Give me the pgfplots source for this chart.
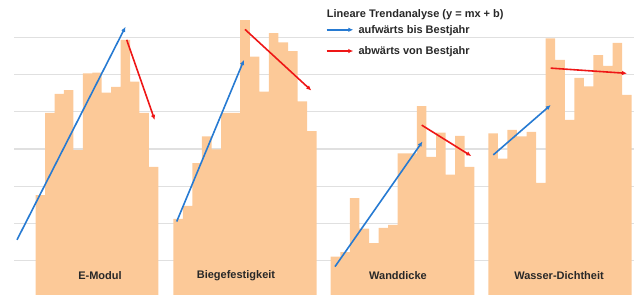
\documentclass[border=0pt]{standalone}
\usepackage{pgfplots}
\pgfplotsset{compat=1.18}
\usepackage{fontspec}
\setmainfont{Liberation Sans}
\usetikzlibrary{arrows.meta}
\definecolor{barc}{RGB}{252,201,152}
\definecolor{gridc}{RGB}{224,224,224}
\definecolor{upc}{RGB}{38,122,210}
\definecolor{downc}{RGB}{238,22,22}
\definecolor{txtc}{RGB}{40,40,40}
\tikzset{trend/.style={line width=1.6pt, -{Latex[length=5pt,width=4.5pt]}},
  lbl/.style={font=\fontsize{11bp}{13bp}\selectfont\bfseries, text=txtc, inner sep=0pt}}
\begin{document}
\begin{tikzpicture}
\begin{axis}[name=ax,
  scale only axis, width=634bp, height=295bp,
  xmin=0, xmax=634, ymin=0.078, ymax=8.0,
  hide axis,
]
% grid
\pgfplotsinvokeforeach{1,...,7}{\draw[gridc, line width=1.2pt] (axis cs:14,#1) -- (axis cs:634,#1);}
% E-Modul
\addplot[ybar interval, fill=barc, draw=none] coordinates {
(35.7,2.76) (45.13,4.97) (54.56,5.48) (63.99,5.58) (73.42,3.97) (82.85,6.03) (92.28,6.05)
(101.71,5.51) (111.14,5.67) (120.57,6.93) (130.0,5.81) (139.43,4.97) (148.86,3.52) (158.29,0)};
% Biegefestigkeit
\addplot[ybar interval, fill=barc, draw=none] coordinates {
(173.3,2.12) (182.86,2.47) (192.42,3.62) (201.98,4.34) (211.54,3.99) (221.1,4.97) (230.66,4.97)
(240.22,7.46) (249.78,6.48) (259.34,5.54) (268.9,7.11) (278.46,6.86) (288.02,6.63) (297.58,5.28)
(307.14,4.48) (316.7,0)};
% Wanddicke
\addplot[ybar interval, fill=barc, draw=none] coordinates {
(330.7,1.11) (340.27,1.23) (349.85,2.68) (359.42,1.86) (369.0,1.47) (378.57,1.88) (388.14,1.96)
(397.71,3.88) (407.29,3.88) (416.86,5.15) (426.43,3.79) (436.0,4.44) (445.58,3.31) (455.15,4.35)
(464.73,3.52) (474.3,0)};
% Wasser-Dichtheit
\addplot[ybar interval, fill=barc, draw=none] coordinates {
(488.3,4.42) (497.86,3.74) (507.42,4.51) (516.98,4.34) (526.54,4.46) (536.1,3.09) (545.66,6.97)
(555.22,6.39) (564.78,4.78) (574.34,5.91) (583.9,5.68) (593.46,6.52) (603.02,6.23) (612.58,6.85)
(622.14,5.45) (631.7,0)};
% trends
\addplot[trend, upc] coordinates {(17,1.56) (125.5,7.28)};
\addplot[trend, downc] coordinates {(126.7,6.93) (154.7,4.78)};
\addplot[trend, upc] coordinates {(176.7,2.05) (244,6.39)};
\addplot[trend, downc] coordinates {(245,7.21) (311.3,5.57)};
\addplot[trend, upc] coordinates {(335,0.84) (422.5,4.20)};
\addplot[trend, downc] coordinates {(421.7,4.64) (471.3,3.81)};
\addplot[trend, upc] coordinates {(493.3,3.84) (550.7,5.18)};
\addplot[trend, downc] coordinates {(550.7,6.17) (627,6.03)};
% labels
\node[lbl] at (axis cs:100,0.59) {E-Modul};
\node[lbl] at (axis cs:236,0.59) {Biegefestigkeit};
\node[lbl] at (axis cs:398,0.59) {Wanddicke};
\node[lbl] at (axis cs:559,0.59) {Wasser-Dichtheit};
% legend
\node[lbl, anchor=west] at (axis cs:326.7,7.60) {Lineare Trendanalyse (y = mx + b)};
\draw[trend, upc] (axis cs:326.7,7.20) -- (axis cs:353.3,7.20);
\node[lbl, anchor=west] at (axis cs:358.3,7.17) {aufwärts bis Bestjahr};
\draw[trend, downc] (axis cs:326.7,6.63) -- (axis cs:353.3,6.63);
\node[lbl, anchor=west] at (axis cs:358.3,6.62) {abwärts von Bestjahr};
\end{axis}
\pgfresetboundingbox
\useasboundingbox (ax.south west) rectangle (ax.north east);
\end{tikzpicture}
\end{document}
